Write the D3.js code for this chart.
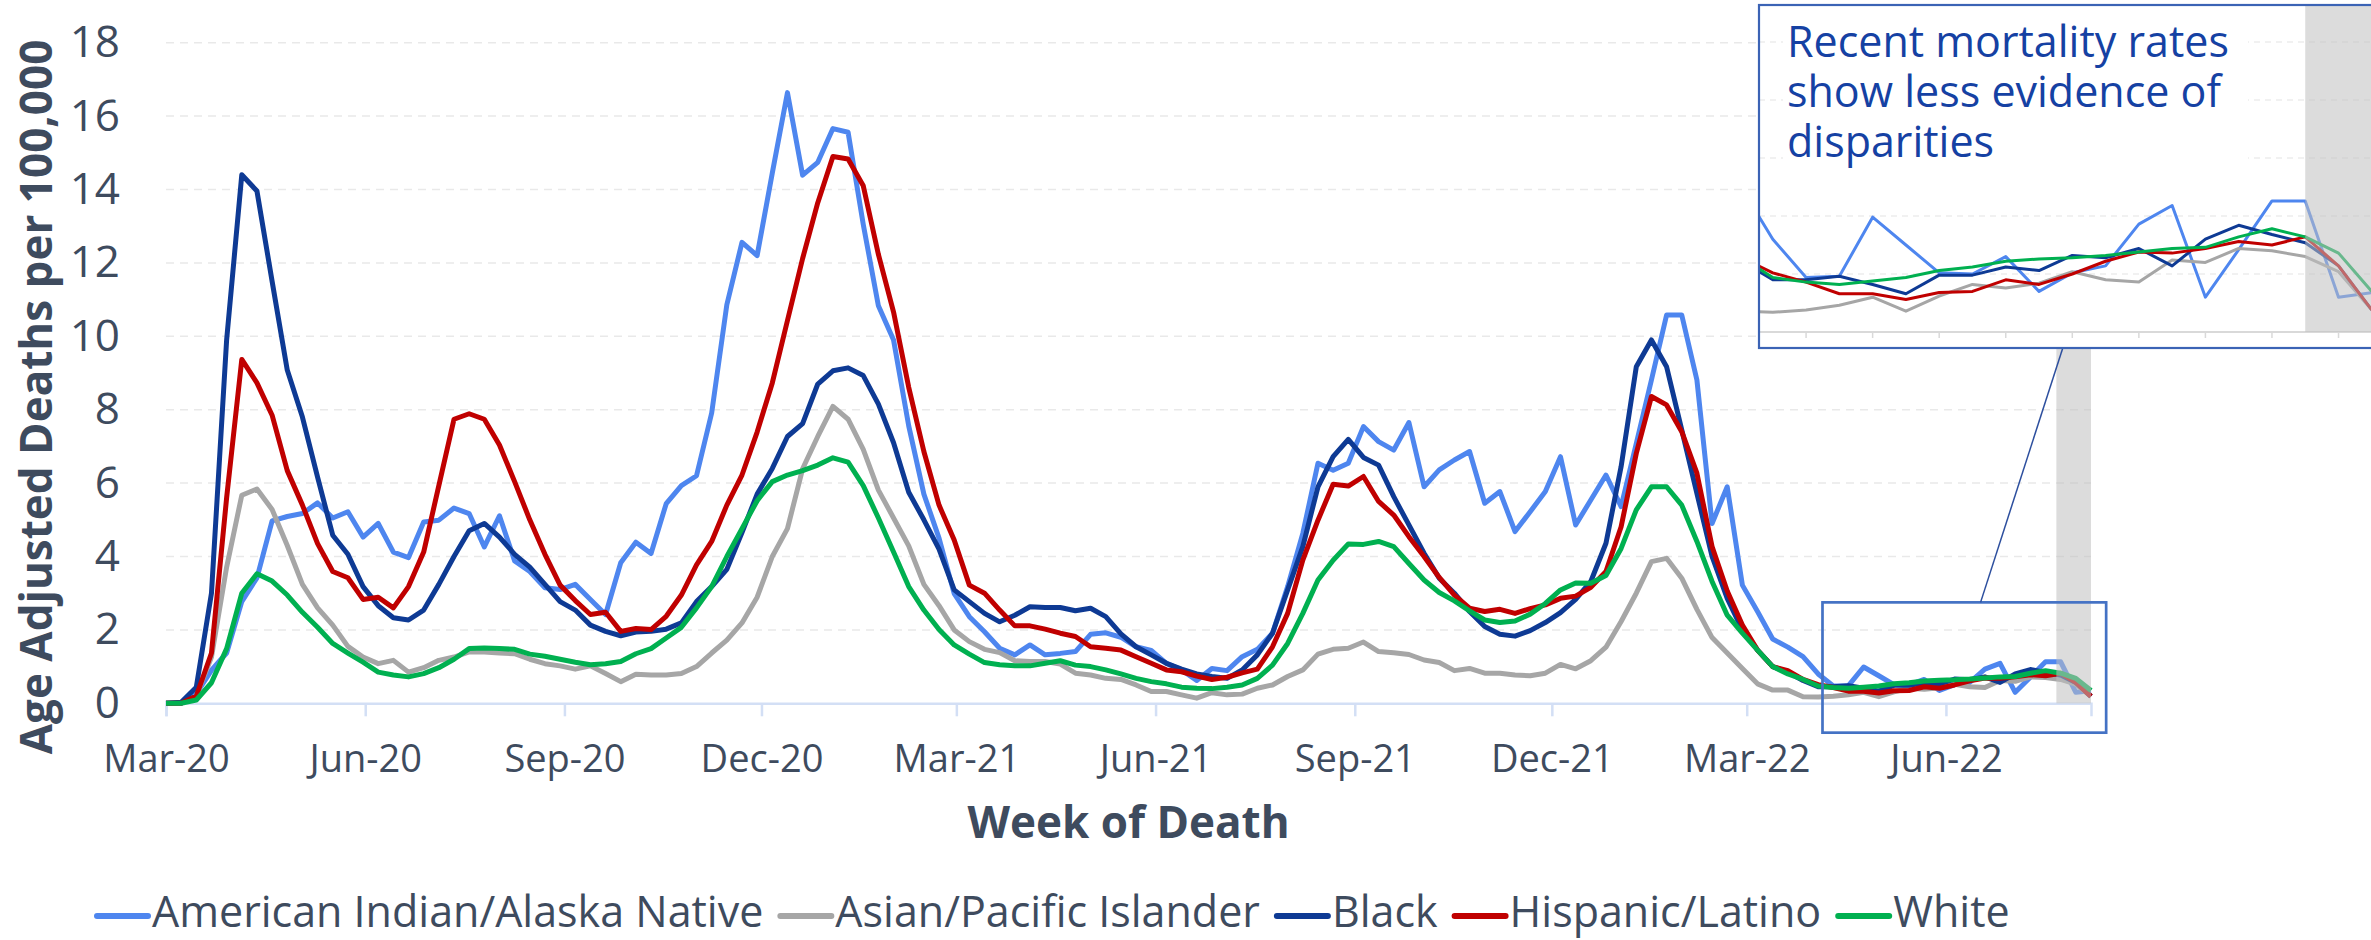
<!DOCTYPE html>
<html>
<head>
<meta charset="utf-8">
<script src="https://cdn.jsdelivr.net/npm/d3@7"></script>
<style>
  body { margin: 0; background: #fff; }
  svg { display: block; font-family: "Open Sans", sans-serif; }
</style>
</head>
<body>
<svg id="chart" width="2371" height="940"></svg>
<script>
// weekly age adjusted death rates, one value per week starting 2020-03-01
var firstWeek = "2020-03-01";
var seriesNames = ["American Indian/Alaska Native", "Asian/Pacific Islander", "Black", "Hispanic/Latino", "White"];
var seriesColors = ["#4e86ef", "#a6a6a6", "#0e3a94", "#c00000", "#00b050"];

var aian = [0,0,0.26,0.9,1.37,2.77,3.42,4.97,5.09,5.17,
  5.46,5.05,5.22,4.53,4.9,4.12,3.97,4.94,4.99,5.32,
  5.17,4.26,5.11,3.88,3.59,3.15,3.1,3.24,2.83,2.42,
  3.83,4.39,4.08,5.44,5.93,6.2,7.91,10.86,12.56,12.2,
  14.45,16.64,14.39,14.74,15.66,15.56,13.05,10.83,9.9,7.56,
  5.7,4.5,2.99,2.36,1.95,1.5,1.32,1.59,1.32,1.36,
  1.41,1.88,1.92,1.8,1.54,1.44,1.09,0.91,0.62,0.95,
  0.89,1.27,1.47,1.91,3.18,4.63,6.54,6.35,6.54,7.54,
  7.13,6.9,7.65,5.9,6.36,6.63,6.86,5.45,5.77,4.68,
  5.22,5.77,6.72,4.86,5.54,6.22,5.36,7.08,8.81,10.58,
  10.58,8.81,4.9,5.9,3.22,2.5,1.75,1.53,1.27,0.8,
  0.47,0.48,0.99,0.75,0.51,0.5,0.65,0.35,0.51,0.57,
  0.93,1.09,0.3,0.71,1.13,1.13,0.3,0.34];

var api = [0,0.03,0.2,1.26,3.71,5.67,5.84,5.28,4.3,3.24,
  2.6,2.13,1.55,1.26,1.08,1.17,0.85,0.97,1.17,1.26,
  1.4,1.4,1.37,1.35,1.2,1.08,1.02,0.93,1.02,0.81,
  0.59,0.79,0.77,0.77,0.81,1.0,1.37,1.72,2.19,2.89,
  4.0,4.76,6.39,7.27,8.09,7.74,6.92,5.81,5.05,4.29,
  3.24,2.66,2.0,1.68,1.47,1.38,1.16,1.14,1.14,1.07,
  0.82,0.77,0.68,0.65,0.5,0.32,0.32,0.23,0.14,0.29,
  0.23,0.25,0.41,0.5,0.73,0.91,1.34,1.47,1.5,1.67,
  1.41,1.38,1.33,1.18,1.11,0.89,0.95,0.82,0.82,0.77,
  0.75,0.82,1.06,0.94,1.16,1.53,2.23,3.0,3.86,3.95,
  3.41,2.56,1.79,1.37,0.95,0.53,0.36,0.36,0.18,0.17,
  0.19,0.23,0.3,0.18,0.31,0.41,0.38,0.42,0.52,0.45,
  0.43,0.62,0.6,0.72,0.7,0.65,0.52,0.19];

var black = [0,0.03,0.44,3.0,9.9,14.4,13.96,11.5,9.08,7.8,
  6.16,4.58,4.06,3.18,2.66,2.33,2.27,2.54,3.24,4.0,
  4.7,4.9,4.53,4.06,3.71,3.24,2.77,2.54,2.13,1.96,
  1.84,1.94,1.96,2.02,2.19,2.77,3.18,3.65,4.65,5.7,
  6.4,7.27,7.62,8.7,9.06,9.14,8.93,8.15,7.1,5.75,
  5.0,4.2,3.09,2.77,2.45,2.22,2.4,2.63,2.61,2.61,
  2.52,2.59,2.36,1.89,1.54,1.32,1.09,0.93,0.8,0.73,
  0.68,0.91,1.32,1.91,3.09,4.27,5.9,6.72,7.19,6.7,
  6.49,5.63,4.86,4.09,3.41,3.0,2.5,2.09,1.88,1.83,
  1.98,2.2,2.47,2.83,3.32,4.36,6.45,9.17,9.9,9.17,
  7.45,5.72,4.0,2.86,2.0,1.45,1.0,0.85,0.62,0.45,
  0.45,0.48,0.41,0.33,0.49,0.49,0.56,0.53,0.66,0.64,
  0.72,0.57,0.8,0.92,0.84,0.77,0.57,0.19];

var hisp = [0,0,0.2,1.37,5.6,9.37,8.73,7.85,6.34,5.4,
  4.35,3.59,3.42,2.83,2.89,2.6,3.18,4.12,5.93,7.74,
  7.89,7.74,7.04,6.04,5.0,4.06,3.22,2.8,2.42,2.48,
  1.96,2.04,2.01,2.37,2.95,3.77,4.41,5.4,6.22,7.39,
  8.73,10.43,12.12,13.64,14.9,14.83,14.1,12.23,10.66,8.61,
  6.86,5.4,4.45,3.22,3.0,2.54,2.11,2.11,2.02,1.91,
  1.82,1.54,1.5,1.45,1.27,1.09,0.91,0.86,0.74,0.65,
  0.71,0.83,0.93,1.54,2.45,3.9,4.99,5.97,5.92,6.18,
  5.5,5.13,4.54,4.0,3.43,2.95,2.59,2.5,2.56,2.45,
  2.58,2.68,2.86,2.92,3.16,3.59,4.81,6.81,8.36,8.13,
  7.4,6.27,4.27,3.06,2.13,1.45,1.0,0.89,0.65,0.51,
  0.43,0.33,0.33,0.28,0.34,0.35,0.45,0.41,0.5,0.61,
  0.69,0.68,0.72,0.78,0.75,0.82,0.57,0.19];

var white = [0,0,0.09,0.56,1.49,3.0,3.53,3.33,2.95,2.48,
  2.07,1.63,1.37,1.12,0.85,0.77,0.72,0.81,0.97,1.2,
  1.49,1.51,1.49,1.47,1.34,1.28,1.2,1.12,1.05,1.08,
  1.14,1.35,1.49,1.78,2.07,2.6,3.18,4.0,4.76,5.52,
  6.04,6.22,6.34,6.49,6.69,6.57,5.93,5.05,4.12,3.18,
  2.54,2.01,1.59,1.34,1.11,1.05,1.02,1.02,1.09,1.16,
  1.04,1.0,0.91,0.8,0.68,0.59,0.53,0.44,0.41,0.4,
  0.44,0.5,0.68,1.04,1.63,2.45,3.36,3.9,4.34,4.33,
  4.41,4.27,3.81,3.36,3.02,2.79,2.52,2.27,2.2,2.24,
  2.43,2.72,3.09,3.28,3.27,3.48,4.22,5.27,5.9,5.9,
  5.4,4.41,3.32,2.4,1.91,1.45,1.0,0.8,0.65,0.47,
  0.43,0.41,0.44,0.47,0.53,0.56,0.61,0.63,0.64,0.66,
  0.69,0.72,0.73,0.82,0.89,0.82,0.68,0.35];

var tickMonths = ["2020-03-01","2020-06-01","2020-09-01","2020-12-01","2021-03-01","2021-06-01",
  "2021-09-01","2021-12-01","2022-03-01","2022-06-01"];
var yTicks = [0,2,4,6,8,10,12,14,16,18];
var insetTicks = [0.5,1,1.5,2,2.5];
var insetNote = ["Recent mortality rates", "show less evidence of", "disparities"];

// last weeks are incomplete (grey band)
var shadeFrom = "2022-07-22";
// area of the main chart that the inset blows up
var zoomBox = {from: "2022-04-05", to: "2022-08-14", top: 2.75, bottom: -0.8};

var svg = d3.select("#chart");
var parse = d3.utcParse("%Y-%m-%d");
var start = parse(firstWeek);
var dates = d3.range(aian.length).map(function (i) { return d3.utcDay.offset(start, 7 * i); });
var values = [aian, api, black, hisp, white];
var series = seriesNames.map(function (name, k) {
  return {name: name, color: seriesColors[k], values: values[k]};
});

var plot = {left: 166, right: 2091, top: 42.7, bottom: 703.3};
var x = d3.scaleUtc().domain([dates[0], dates[dates.length - 1]]).range([plot.left, plot.right]);
var y = d3.scaleLinear().domain([0, 18]).range([plot.bottom, plot.top]);
var textColor = "#3e4b5e";

// gridlines
svg.append("g").selectAll("line").data(yTicks.filter(function (d) { return d > 0; }))
  .enter().append("line")
  .attr("x1", plot.left).attr("x2", plot.right)
  .attr("y1", function (d) { return y(d); }).attr("y2", function (d) { return y(d); })
  .attr("stroke", "#e9e9e9").attr("stroke-width", 1.5).attr("stroke-dasharray", "8,6");

// y axis labels
var gy = svg.append("g").attr("transform", "translate(" + plot.left + ",0)")
  .call(d3.axisLeft(y).tickValues(yTicks).tickSize(0).tickPadding(46));
gy.select(".domain").remove();
gy.selectAll("text").attr("font-size", 44).attr("fill", textColor).attr("font-family", "Open Sans");

// x axis
var gx = svg.append("g").attr("transform", "translate(0," + plot.bottom + ")")
  .call(d3.axisBottom(x).tickValues(tickMonths.map(parse))
    .tickFormat(d3.utcFormat("%b-%y")).tickSize(13).tickPadding(29));
gx.select(".domain").attr("stroke", "#d3dff5").attr("stroke-width", 2.5);
gx.selectAll(".tick line").attr("stroke", "#d3dff5").attr("stroke-width", 2.5);
gx.selectAll("text").attr("font-size", 38).attr("fill", textColor).attr("font-family", "Open Sans");

// series lines
var line = d3.line()
  .x(function (d, i) { return x(dates[i]); })
  .y(function (d) { return y(d); });

svg.append("g").selectAll("path").data(series).enter().append("path")
  .attr("d", function (s) { return line(s.values); })
  .attr("fill", "none")
  .attr("stroke", function (s) { return s.color; })
  .attr("stroke-width", 5)
  .attr("stroke-linejoin", "round");

// incomplete weeks
svg.append("rect")
  .attr("x", x(parse(shadeFrom))).attr("y", plot.top)
  .attr("width", plot.right - x(parse(shadeFrom))).attr("height", plot.bottom - plot.top)
  .attr("fill", "#bfbfbf").attr("opacity", 0.55);

// zoom box + connector
var zx0 = x(parse(zoomBox.from)), zx1 = x(parse(zoomBox.to));
svg.append("rect")
  .attr("x", zx0).attr("y", y(zoomBox.top))
  .attr("width", zx1 - zx0).attr("height", y(zoomBox.bottom) - y(zoomBox.top))
  .attr("fill", "none").attr("stroke", "#4472c4").attr("stroke-width", 2.7);

// inset chart
var inset = {left: 1759, top: 5, width: 700, height: 343, axisY: 332};
var xi = d3.scaleUtc().domain([dates[109], dates[127]]).range([1772.8, 2371.8]);
var yi = d3.scaleLinear().domain([0, 2.5]).range([inset.axisY, inset.axisY - 2.5 * 116]);

svg.append("line")
  .attr("x1", x(parse("2022-06-17"))).attr("y1", y(zoomBox.top))
  .attr("x2", xi(parse("2022-06-03"))).attr("y2", inset.top + inset.height)
  .attr("stroke", "#2d4f9e").attr("stroke-width", 1.5);

svg.append("clipPath").attr("id", "insetClip").append("rect")
  .attr("x", inset.left).attr("y", inset.top).attr("width", inset.width).attr("height", inset.height);

var gi = svg.append("g").attr("clip-path", "url(#insetClip)");
gi.append("rect")
  .attr("x", inset.left).attr("y", inset.top).attr("width", inset.width).attr("height", inset.height)
  .attr("fill", "#fff");

gi.append("g").selectAll("line").data(insetTicks).enter().append("line")
  .attr("x1", inset.left).attr("x2", inset.left + inset.width)
  .attr("y1", function (d) { return yi(d); }).attr("y2", function (d) { return yi(d); })
  .attr("stroke", "#e3e3e3").attr("stroke-width", 1.2).attr("stroke-dasharray", "6,5");

gi.append("line")
  .attr("x1", inset.left).attr("x2", inset.left + inset.width)
  .attr("y1", inset.axisY).attr("y2", inset.axisY)
  .attr("stroke", "#d9d9d9").attr("stroke-width", 2);

gi.append("g").selectAll("line").data(d3.range(110, 127, 2)).enter().append("line")
  .attr("x1", function (i) { return xi(dates[i]); }).attr("x2", function (i) { return xi(dates[i]); })
  .attr("y1", inset.axisY).attr("y2", inset.axisY + 6)
  .attr("stroke", "#d9d9d9").attr("stroke-width", 1.5);

var lineInset = d3.line()
  .x(function (d, i) { return xi(dates[i]); })
  .y(function (d) { return yi(d); });

gi.append("g").selectAll("path").data(series).enter().append("path")
  .attr("d", function (s) { return lineInset(s.values); })
  .attr("fill", "none")
  .attr("stroke", function (s) { return s.color; })
  .attr("stroke-width", 3)
  .attr("stroke-linejoin", "round");

gi.append("rect")
  .attr("x", xi(dates[125])).attr("y", inset.top)
  .attr("width", inset.left + inset.width - xi(dates[125])).attr("height", inset.axisY - inset.top)
  .attr("fill", "#bfbfbf").attr("opacity", 0.55);

gi.append("rect")
  .attr("x", 1783).attr("y", 12).attr("width", 465).attr("height", 162)
  .attr("fill", "#fff");

// one text block, three lines
gi.append("text")
  .attr("font-size", 43)
  .attr("fill", "#1541a3")
  .selectAll("tspan").data(insetNote).enter().append("tspan")
  .attr("x", 1787)
  .attr("y", function (d, i) { return 57 + i * 50; })
  .text(function (d) { return d; });

svg.append("rect")
  .attr("x", inset.left).attr("y", inset.top).attr("width", inset.width).attr("height", inset.height)
  .attr("fill", "none").attr("stroke", "#3b63b5").attr("stroke-width", 2.2);

// axis titles
svg.append("text")
  .attr("transform", "translate(52,397) rotate(-90)")
  .attr("text-anchor", "middle")
  .attr("font-size", 44).attr("font-weight", "bold").attr("fill", textColor)
  .text("Age Adjusted Deaths per 100,000");

svg.append("text")
  .attr("x", (plot.left + plot.right) / 2).attr("y", 838)
  .attr("text-anchor", "middle")
  .attr("font-size", 44).attr("font-weight", "bold").attr("fill", textColor)
  .text("Week of Death");

// legend
var legend = svg.append("g");
var lx = 94;
series.forEach(function (s) {
  legend.append("line")
    .attr("x1", lx + 3).attr("x2", lx + 54)
    .attr("y1", 916).attr("y2", 916)
    .attr("stroke", s.color).attr("stroke-width", 6).attr("stroke-linecap", "round");
  var t = legend.append("text")
    .attr("x", lx + 58).attr("y", 927)
    .attr("font-size", 43).attr("fill", textColor)
    .text(s.name);
  lx += 58 + t.node().getComputedTextLength() + 14;
});
</script>
</body>
</html>
